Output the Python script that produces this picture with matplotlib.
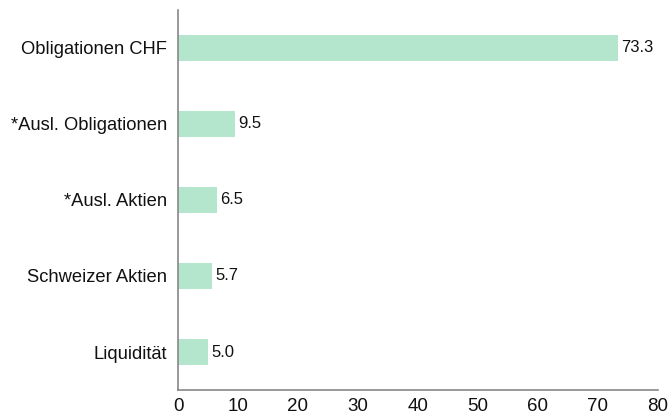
import matplotlib
matplotlib.use("Agg")
import matplotlib.pyplot as plt

categories = ["Obligationen CHF", "*Ausl. Obligationen", "*Ausl. Aktien", "Schweizer Aktien", "Liquidität"]
values = [73.3, 9.5, 6.5, 5.7, 5.0]
xticks = [0, 10, 20, 30, 40, 50, 60, 70, 80]

plt.rcParams['font.family'] = ['Liberation Sans', 'DejaVu Sans']

fig = plt.figure(figsize=(6.7, 4.15), dpi=100)
ax = fig.add_axes([0.2657, 0.0602, 0.7163, 0.9158])

ypos = list(range(len(categories)))
ax.barh(ypos, values, height=0.34, color="#b3e6cc")
for y, v in zip(ypos, values):
    ax.text(v + 0.6, y, f"{v:.1f}", va="center", ha="left", fontsize=12, color="#111111")

ax.set_yticks(ypos)
ax.set_yticklabels(categories, fontsize=13.2, color="#111111")
ax.set_xticks(xticks)
ax.set_xticklabels([str(t) for t in xticks], fontsize=13.5, color="#111111")
ax.set_xlim(0, 80)
ax.set_ylim(len(categories) - 0.5, -0.5)
ax.tick_params(axis="y", length=0, pad=8)
ax.tick_params(axis="x", length=0, pad=6)
for s in ["top", "right"]:
    ax.spines[s].set_visible(False)
for s in ["left", "bottom"]:
    ax.spines[s].set_color("#888888")
    ax.spines[s].set_linewidth(1.2)

fig.savefig("out.png", dpi=100)
